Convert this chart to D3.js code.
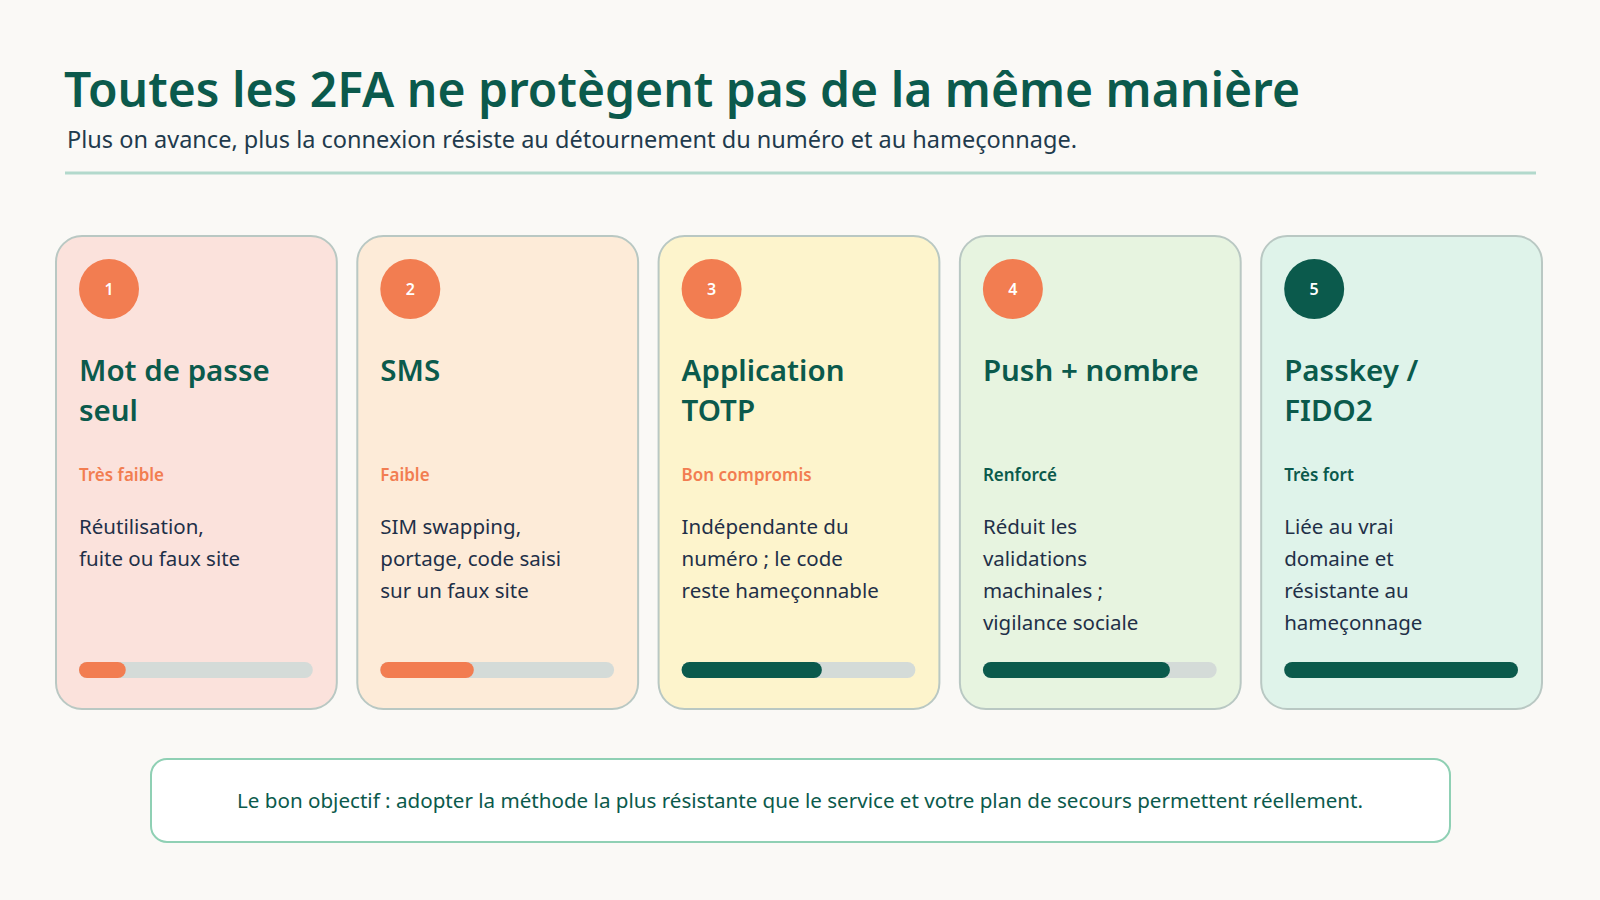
<!DOCTYPE html>
<html><head><meta charset="utf-8">
<script src="https://cdn.jsdelivr.net/npm/d3@7"></script>
<style>body{margin:0;background:#faf9f6}svg{display:block}</style>
</head><body><svg id="c" width="1600" height="900"></svg>
<script>
const ranks = ["1","2","3","4","5"];
const titles = [["Mot de passe","seul"],["SMS"],["Application","TOTP"],["Push + nombre"],["Passkey /","FIDO2"]];
const levels = ["Très faible","Faible","Bon compromis","Renforcé","Très fort"];
const descs = [["Réutilisation,","fuite ou faux site"],["SIM swapping,","portage, code saisi","sur un faux site"],["Indépendante du","numéro ; le code","reste hameçonnable"],["Réduit les","validations","machinales ;","vigilance sociale"],["Liée au vrai","domaine et","résistante au","hameçonnage"]];
const strength = [0.2,0.4,0.6,0.8,1.0];
const fills = ["#fbe2dc","#fdebd8","#fdf4cc","#e7f4e0","#dff3ea"];
const strong = [false,false,false,true,true];

const dark="#0b5a4c", orange="#f27d51", font="'Noto Sans', sans-serif";
const svg=d3.select("#c").style("font-family",font);
svg.append("text").attr("x",64).attr("y",107).attr("font-size",48).attr("font-weight",600).attr("fill",dark).text("Toutes les 2FA ne protègent pas de la même manière");
svg.append("text").attr("x",67).attr("y",148).attr("font-size",23.5).attr("fill","#1f3b4d").text("Plus on avance, plus la connexion résiste au détournement du numéro et au hameçonnage.");
svg.append("line").attr("x1",65).attr("x2",1536).attr("y1",173).attr("y2",173).attr("stroke","#b2d9cc").attr("stroke-width",3);

const x=d3.scaleBand().domain(ranks).range([56,1542]).paddingInner(0.068);
const w=x.bandwidth();
const g=svg.selectAll("g.card").data(ranks).join("g").attr("transform",d=>`translate(${x(d)},236)`);
g.append("rect").attr("width",w).attr("height",473).attr("rx",26).attr("fill",(d,i)=>fills[i]).attr("stroke","#b9c8c3").attr("stroke-width",2);
g.append("circle").attr("cx",53).attr("cy",53).attr("r",30).attr("fill",(d,i)=>i===4?dark:orange);
g.append("text").attr("x",53).attr("y",59).attr("text-anchor","middle").attr("font-size",16).attr("font-weight",600).attr("fill","#fff").text(d=>d);
g.each(function(d,i){
  const s=d3.select(this);
  titles[i].forEach((t,j)=>s.append("text").attr("x",23).attr("y",145+j*40).attr("font-size",29.5).attr("font-weight",600).attr("fill",dark).text(t));
  s.append("text").attr("x",23).attr("y",245).attr("font-size",17).attr("font-weight",600).attr("fill",strong[i]?dark:orange).text(levels[i]);
  descs[i].forEach((t,j)=>s.append("text").attr("x",23).attr("y",298+j*32).attr("font-size",20.5).attr("fill","#1f3048").text(t));
  const bx=d3.scaleLinear().domain([0,1]).range([0,w-47]);
  s.append("rect").attr("x",23).attr("y",426).attr("width",bx(1)).attr("height",16).attr("rx",8).attr("fill","#d4dbd8");
  s.append("rect").attr("x",23).attr("y",426).attr("width",bx(strength[i])).attr("height",16).attr("rx",8).attr("fill",strong[i]||i===2?dark:orange);
});
svg.append("rect").attr("x",151).attr("y",759).attr("width",1299).attr("height",83).attr("rx",16).attr("fill","#fff").attr("stroke","#8fd0b4").attr("stroke-width",2);
svg.append("text").attr("x",800).attr("y",808).attr("text-anchor","middle").attr("font-size",20.6).attr("fill",dark).text("Le bon objectif : adopter la méthode la plus résistante que le service et votre plan de secours permettent réellement.");
</script></body></html>
